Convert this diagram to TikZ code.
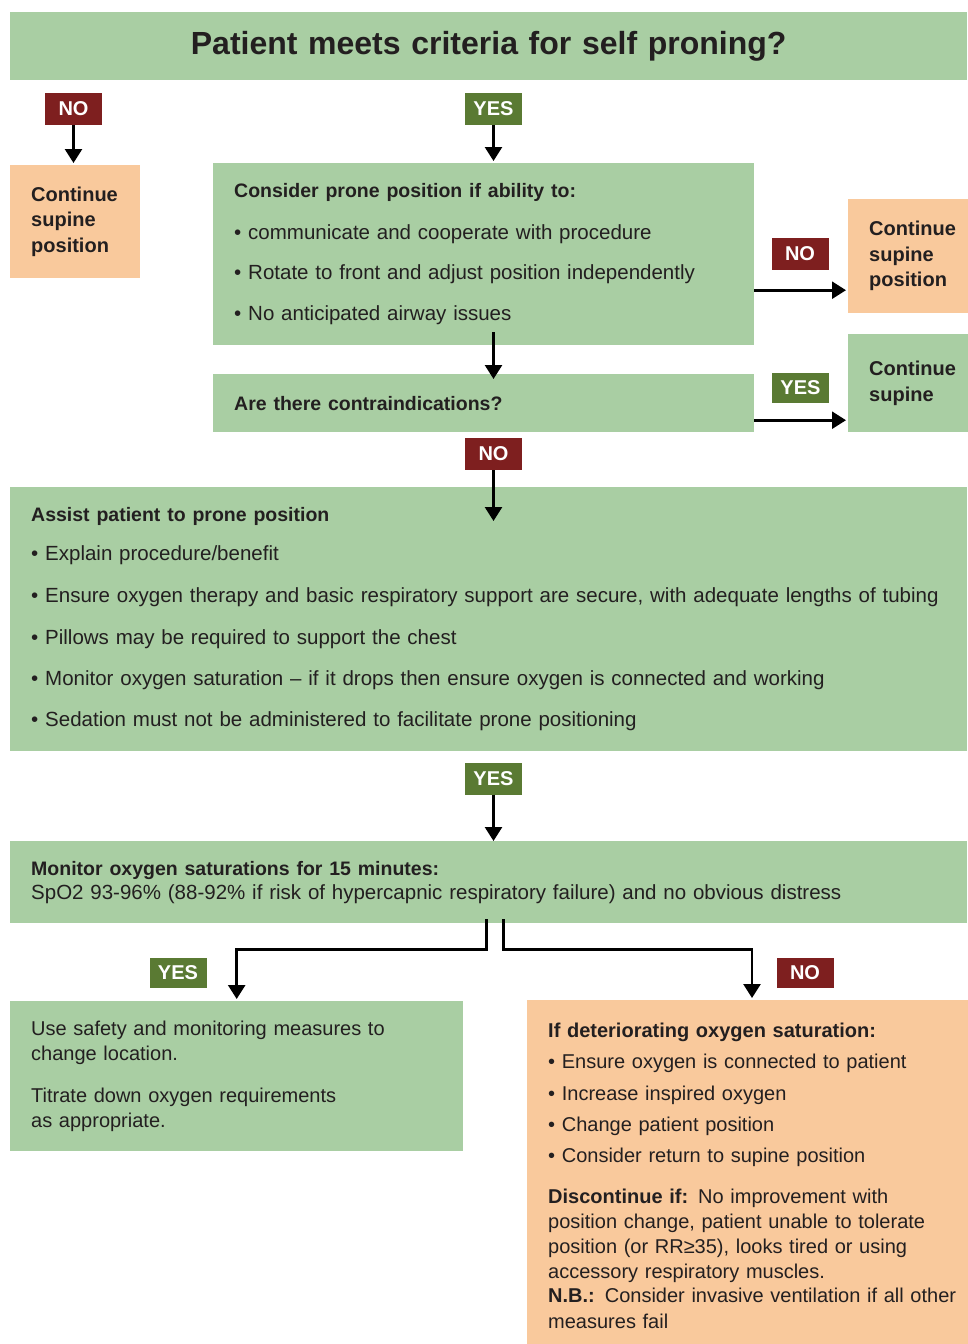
\documentclass[tikz,border=0pt]{standalone}
\usepackage{fontspec}
\setmainfont{Liberation Sans}
\usetikzlibrary{arrows.meta,calc}
\definecolor{boxgreen}{HTML}{A9CEA3}
\definecolor{boxorange}{HTML}{F9C99C}
\definecolor{nored}{HTML}{7E1F1F}
\definecolor{yesgreen}{HTML}{5A7A33}
\definecolor{ink}{HTML}{231F20}
\newcommand{\bodysize}{\fontsize{20.5}{25}\selectfont}
\newcommand{\lowsize}{\fontsize{20}{25}\selectfont}
\newcommand{\supsize}{\fontsize{20}{25.5}\selectfont\bfseries}
\newcommand{\hd}[1]{{\fontsize{19.5}{25}\selectfont\bfseries #1}}
\tikzset{
  greenbox/.style={fill=boxgreen, anchor=north west, align=left, inner xsep=21pt, inner ysep=0pt, text=ink, font=\bodysize},
  orangebox/.style={greenbox, fill=boxorange},
  nobox/.style={fill=nored, text=white, font=\fontsize{20}{20}\selectfont\bfseries, minimum width=57pt, minimum height=32pt, inner sep=0pt},
  yesbox/.style={nobox, fill=yesgreen},
  arr/.style={line width=2.6pt, -{Triangle[length=14pt,width=17pt]}}
}

\begin{document}
\begin{tikzpicture}[x=1pt,y=-1pt]
      \useasboundingbox[fill=white] (0,0) rectangle (967,1344);

      \node[greenbox, text width=915pt, minimum height=68pt, align=center, font=\fontsize{32}{32}\selectfont\bfseries] (title) at (10,12) {Patient meets criteria for self proning?};

      \node[nobox] (noA) at (73.5,109) {NO};
      \node[yesbox] (yesA) at (493.5,109) {YES};
      \node[orangebox, text width=88pt, minimum height=113pt, font=\supsize] (supineA) at (10,165) {Continue\\supine\\position};

      \node[greenbox, text width=499pt, minimum height=182pt] (consider) at (213,163)
        {\hd{Consider prone position if ability to:}\\[17pt]
         • communicate and cooperate with procedure\\[15pt]
         • Rotate to front and adjust position independently\\[16pt]
         • No anticipated airway issues};
      \node[nobox] (noB) at (800,253.5) {NO};
      \node[orangebox, text width=100pt, minimum height=114pt, font=\supsize] (supineB) at (848,199) {Continue\\supine\\position};

      \node[greenbox, text width=499pt, minimum height=58pt] (contra) at (213,374) {\hd{Are there contraindications?}};
      \node[yesbox, minimum height=30pt] (yesB) at (800.5,388) {YES};
      \node[greenbox, text width=100pt, minimum height=98pt, font=\supsize] (supineC) at (848,334) {Continue\\supine};

      \node[nobox] (noC) at (493.5,454) {NO};
      \node[greenbox, text width=915pt, minimum height=264pt] (assist) at (10,487)
        {\hd{Assist patient to prone position}\\[14pt]
         • Explain procedure/benefit\\[17pt]
         • Ensure oxygen therapy and basic respiratory support are secure, with adequate lengths of tubing\\[17pt]
         • Pillows may be required to support the chest\\[16pt]
         • Monitor oxygen saturation – if it drops then ensure oxygen is connected and working\\[16pt]
         • Sedation must not be administered to facilitate prone positioning};

      \node[yesbox] (yesC) at (493.5,778.5) {YES};
      \node[greenbox, text width=915pt, minimum height=82pt] (monitor) at (10,841)
        {\hd{Monitor oxygen saturations for 15 minutes:}\\[-1pt]
         SpO2 93-96\% (88-92\% if risk of hypercapnic respiratory failure) and no obvious distress};

      \node[yesbox, minimum height=30pt] (yesD) at (178,972.5) {YES};
      \node[nobox, minimum height=30pt] (noD) at (805,972.5) {NO};

      \node[greenbox, text width=411pt, minimum height=150pt, font=\lowsize] (relocate) at (10,1001)
        {Use safety and monitoring measures to\\
         change location.\\[17pt]
         Titrate down oxygen requirements\\
         as appropriate.};
      \node[orangebox, text width=440pt, minimum height=352pt, font=\lowsize] (deteriorate) at (527,1000)
        {\textbf{If deteriorating oxygen saturation:}\\[6pt]
         • Ensure oxygen is connected to patient\\[7pt]
         • Increase inspired oxygen\\[6pt]
         • Change patient position\\[6pt]
         • Consider return to supine position\\[16pt]
         \textbf{Discontinue if:} No improvement with\\
         position change, patient unable to tolerate\\
         position (or RR≥35), looks tired or using\\
         accessory respiratory muscles.\\[-1pt]
         \textbf{N.B.:} Consider invasive ventilation if all other\\[1pt]
         measures fail};

      \draw[arr, shorten >=2pt] (noA.south) -- (noA.south |- supineA.north);
      \draw[arr, shorten >=2pt] (yesA.south) -- (yesA.south |- consider.north);
      \coordinate (noOut) at ([yshift=-36pt]consider.east);
      \draw[arr, shorten >=2pt] (noOut) -- (noOut -| supineB.west);
      \draw[arr] ($(yesA.south |- consider.south)+(0,-13)$) -- ($(yesA.south |- contra.north)+(0,5)$);
      \coordinate (yesOut) at ([yshift=-17pt]contra.east);
      \draw[arr, shorten >=2pt] (yesOut) -- (yesOut -| supineC.west);
      \draw[arr] (noC.south) -- ($(noC.south |- assist.north)+(0,34)$);
      \draw[arr] (yesC.south) -- (yesC.south |- monitor.north);

      \coordinate (splitL) at ($(yesC.south |- monitor.south)+(-7,-4)$);
      \coordinate (splitR) at ($(yesC.south |- monitor.south)+(10,-4)$);
      \draw[arr, shorten >=2pt] (splitL) -- ++(0,30) -| (relocate.north);
      \draw[arr, shorten >=2pt] (splitR) -- ++(0,30) -| ($(deteriorate.north west)+(225,0)$);
\end{tikzpicture}
\end{document}
